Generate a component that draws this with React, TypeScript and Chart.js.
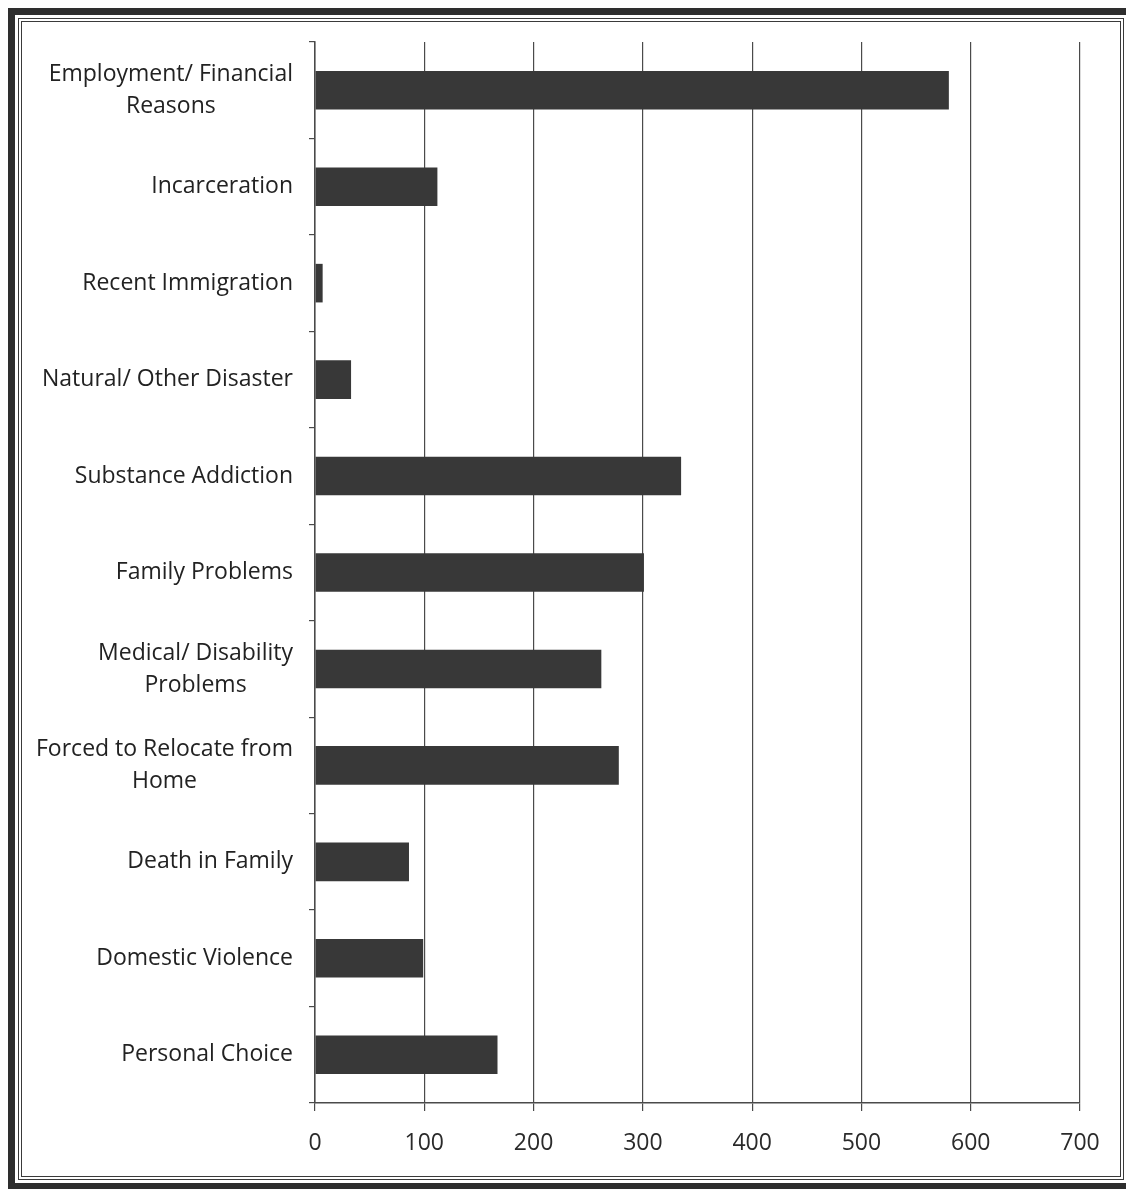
import React, { useEffect, useRef } from "react";
import { Chart, registerables } from "chart.js";

Chart.register(...registerables);

const categories: (string | string[])[] = [
  ["Employment/ Financial", "Reasons"],
  "Incarceration",
  "Recent Immigration",
  "Natural/ Other Disaster",
  "Substance Addiction",
  "Family Problems",
  ["Medical/ Disability", "Problems"],
  ["Forced to Relocate from", "Home"],
  "Death in Family",
  "Domestic Violence",
  "Personal Choice",
];

const values: number[] = [580, 112, 7, 33, 335, 301, 262, 278, 86, 99, 167];

const xTicks: number[] = [0, 100, 200, 300, 400, 500, 600, 700];

const W = 1126;
const H = 1182;
const LABEL_FONT = "23px 'Open Sans', sans-serif";
const LABEL_LINE = 32;
const LABEL_GAP = 22;

const categoryLabelPlugin = {
  id: "categoryLabels",
  afterDraw(chart: any) {
    const ctx = chart.ctx as CanvasRenderingContext2D;
    const yScale = chart.scales.y;
    const right = yScale.right - LABEL_GAP;
    ctx.save();
    ctx.font = LABEL_FONT;
    ctx.fillStyle = "#222222";
    ctx.textAlign = "center";
    ctx.textBaseline = "middle";
    categories.forEach((lab, i) => {
      const lines = Array.isArray(lab) ? lab : [lab];
      const maxW = Math.max(...lines.map((l) => ctx.measureText(l).width));
      const cx = right - maxW / 2;
      const cy = yScale.getPixelForValue(i);
      const startY = cy - ((lines.length - 1) * LABEL_LINE) / 2;
      lines.forEach((l, j) => {
        ctx.fillText(l, cx, startY + j * LABEL_LINE);
      });
    });
    ctx.restore();
  },
};

export default function App() {
  const ref = useRef<HTMLCanvasElement | null>(null);

  useEffect(() => {
    if (!ref.current) return;
    const chart = new Chart(ref.current, {
      type: "bar",
      data: {
        labels: categories,
        datasets: [
          {
            data: values,
            backgroundColor: "#383838",
            borderWidth: 0,
            barPercentage: 0.8,
            categoryPercentage: 0.5,
          },
        ],
      },
      plugins: [categoryLabelPlugin],
      options: {
        indexAxis: "y",
        animation: false,
        responsive: false,
        devicePixelRatio: 1,
        layout: { padding: { top: 34, right: 54, bottom: 20, left: 0 } },
        plugins: {
          legend: { display: false },
          tooltip: { enabled: false },
        },
        scales: {
          x: {
            min: 0,
            max: 700,
            afterBuildTicks: (scale: any) => {
              scale.ticks = xTicks.map((v) => ({ value: v }));
            },
            afterFit: (scale: any) => {
              scale.height = 67;
            },
            grid: {
              color: "#4a4a4a",
              lineWidth: 1.2,
              drawTicks: true,
              tickLength: 8,
            },
            border: { display: true, color: "#4a4a4a", width: 1.5 },
            ticks: {
              color: "#2a2a2a",
              font: { family: "'Open Sans', sans-serif", size: 23 },
              padding: 19,
              maxRotation: 0,
            },
          },
          y: {
            afterFit: (scale: any) => {
              scale.width = 307;
            },
            grid: {
              display: true,
              offset: true,
              drawOnChartArea: false,
              drawTicks: true,
              tickLength: 6,
              color: "#4a4a4a",
              lineWidth: 1.2,
            },
            border: { display: true, color: "#4a4a4a", width: 1.5 },
            ticks: {
              display: false,
              autoSkip: false,
            },
          },
        },
      },
    });
    return () => chart.destroy();
  }, []);

  return (
    <div style={{ position: "relative", width: W, height: H, background: "#fff" }}>
      <div
        style={{
          position: "absolute",
          left: 0,
          top: 0,
          width: W,
          height: H,
          boxSizing: "border-box",
          border: "7px solid #2e2e2e",
        }}
      >
        <div
          style={{
            position: "absolute",
            inset: 3,
            border: "4px double #3a3a3a",
          }}
        />
      </div>
      <canvas
        ref={ref}
        width={W}
        height={H}
        style={{ position: "absolute", left: 0, top: 0, width: W, height: H }}
      />
    </div>
  );
}
